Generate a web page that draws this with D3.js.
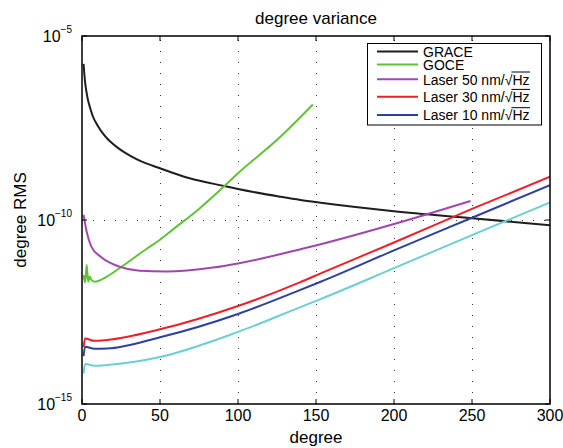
<!DOCTYPE html>
<html>
<head>
<meta charset="utf-8">
<script src="https://cdn.jsdelivr.net/npm/d3@7"></script>
<style>
  body { margin: 0; background: #fff; }
  text { font-family: "Liberation Sans", Arial, sans-serif; fill: #000; }
</style>
</head>
<body>
<svg id="chart"></svg>
<script>
// values
const graceDeg = [1, 2, 3, 4, 5, 7, 10, 13, 16, 19, 23, 27, 31, 38, 50, 69, 91, 100, 127, 140, 153, 200, 250, 300];
const graceVal = [1.74e-6, 5.5e-7, 2.8e-7, 1.7e-7, 1.2e-7, 6.5e-8, 3.7e-8, 2.37e-8, 1.67e-8, 1.25e-8, 9.1e-9, 6.95e-9, 5.5e-9, 3.9e-9, 2.54e-9, 1.36e-9, 8.4e-10, 6.95e-10, 4.3e-10, 3.5e-10, 2.95e-10, 1.74e-10, 1.12e-10, 7.2e-11];

const goceDeg = [1, 2, 3, 4, 5, 6, 8, 16, 24, 41, 50, 58, 75, 91, 100, 127, 148];
const goceVal = [3.2e-12, 2.0e-12, 6.0e-12, 2.1e-12, 2.9e-12, 2.35e-12, 2.1e-12, 2.9e-12, 4.9e-12, 1.6e-11, 2.9e-11, 5.4e-11, 2.0e-10, 8.1e-10, 1.86e-9, 1.8e-8, 1.38e-7];

const laser50Deg = [1, 3, 6, 12, 24, 37, 54, 84, 100, 140, 153, 200, 249];
const laser50Val = [1.38e-10, 4.8e-11, 1.9e-11, 1.0e-11, 5.4e-12, 4.2e-12, 4.0e-12, 5.1e-12, 6.6e-12, 1.6e-11, 2.2e-11, 7.8e-11, 3.3e-10];

const laser30Deg = [1, 2, 8, 16, 50, 100, 140, 153, 200, 250, 300];
const laser30Val = [3.5e-14, 6.0e-14, 5.2e-14, 5.5e-14, 1.07e-13, 4.6e-13, 2.05e-12, 3.55e-12, 2.45e-11, 2.0e-10, 1.5e-9];

const laser10Deg = [1, 2, 8, 16, 50, 100, 140, 153, 200, 250, 300];
const laser10Val = [2.0e-14, 3.6e-14, 3.15e-14, 3.2e-14, 6.5e-14, 2.8e-13, 1.26e-12, 2.1e-12, 1.5e-11, 1.15e-10, 8.9e-10];

const extraDeg = [1, 2, 8, 16, 50, 100, 140, 153, 200, 250, 300];
const extraVal = [6.8e-15, 1.23e-14, 1.1e-14, 1.15e-14, 1.9e-14, 9.1e-14, 4.3e-13, 7.1e-13, 4.9e-12, 3.9e-11, 3.0e-10];

const xTicks = [0, 50, 100, 150, 200, 250, 300];
const yTicks = [1e-15, 1e-10, 1e-5];
const yTickExp = ["\u221215", "\u221210", "\u22125"];
const legendNames = ["GRACE", "GOCE", "Laser 50 nm/\u221A", "Laser 30 nm/\u221A", "Laser 10 nm/\u221A"];

const width = 563, height = 448;
const plotLeft = 82, plotRight = 550, plotTop = 36, plotBottom = 404;

const series = [
  {deg: graceDeg, val: graceVal, color: "#1e1e1e"},
  {deg: goceDeg, val: goceVal, color: "#62c236"},
  {deg: laser50Deg, val: laser50Val, color: "#a047ae"},
  {deg: laser30Deg, val: laser30Val, color: "#ee1f2a"},
  {deg: laser10Deg, val: laser10Val, color: "#2c419f"},
  {deg: extraDeg, val: extraVal, color: "#6ccfd0"}
];

const svg = d3.select("#chart").attr("width", width).attr("height", height);

const x = d3.scaleLinear().domain([0, 300]).range([plotLeft, plotRight]);
const y = d3.scaleLog().domain([1e-15, 1e-5]).range([plotBottom, plotTop]);

// grid
const grid = svg.append("g").attr("stroke", "#333").attr("stroke-width", 1)
    .attr("stroke-dasharray", "1,10");
grid.selectAll("line.v")
    .data(xTicks.slice(1, -1))
    .enter().append("line")
    .attr("x1", d => Math.round(x(d)) + 0.5).attr("x2", d => Math.round(x(d)) + 0.5)
    .attr("y1", plotBottom).attr("y2", plotTop);
grid.selectAll("line.h")
    .data(yTicks.slice(1, -1))
    .enter().append("line")
    .attr("x1", plotLeft).attr("x2", plotRight)
    .attr("y1", d => Math.round(y(d)) + 0.5).attr("y2", d => Math.round(y(d)) + 0.5);

svg.append("clipPath").attr("id", "plot")
    .append("rect").attr("x", plotLeft).attr("y", plotTop)
    .attr("width", plotRight - plotLeft).attr("height", plotBottom - plotTop);

const line = d3.line()
    .x(d => x(d[0]))
    .y(d => y(d[1]))
    .curve(d3.curveMonotoneX);

svg.append("g").attr("clip-path", "url(#plot)")
    .selectAll("path")
    .data(series)
    .enter().append("path")
    .attr("d", s => line(s.deg.map((d, i) => [d, s.val[i]])))
    .attr("fill", "none")
    .attr("stroke", s => s.color)
    .attr("stroke-width", 2);

// box and ticks
svg.append("rect")
    .attr("x", plotLeft).attr("y", plotTop)
    .attr("width", plotRight - plotLeft).attr("height", plotBottom - plotTop)
    .attr("fill", "none").attr("stroke", "#000").attr("stroke-width", 1.5);

const ticks = svg.append("g").attr("stroke", "#000").attr("stroke-width", 1);
xTicks.forEach(t => {
  ticks.append("line").attr("x1", x(t)).attr("x2", x(t)).attr("y1", plotBottom).attr("y2", plotBottom - 5);
  ticks.append("line").attr("x1", x(t)).attr("x2", x(t)).attr("y1", plotTop).attr("y2", plotTop + 5);
});
yTicks.forEach(t => {
  ticks.append("line").attr("x1", plotLeft).attr("x2", plotLeft + 5).attr("y1", y(t)).attr("y2", y(t));
  ticks.append("line").attr("x1", plotRight).attr("x2", plotRight - 5).attr("y1", y(t)).attr("y2", y(t));
});

// tick labels
svg.append("g").selectAll("text")
    .data(xTicks)
    .enter().append("text")
    .attr("x", d => x(d)).attr("y", plotBottom + 17)
    .attr("text-anchor", "middle")
    .attr("font-size", 16)
    .text(d => d);

const yl = svg.append("g").selectAll("text")
    .data(yTicks)
    .enter().append("text")
    .attr("x", 72).attr("y", d => y(d) + 6)
    .attr("text-anchor", "end")
    .attr("font-size", 16);
yl.append("tspan").text("10");
yl.append("tspan").attr("dy", -9).attr("font-size", 10).text((d, i) => yTickExp[i]);

// titles
svg.append("text").attr("x", (plotLeft + plotRight) / 2).attr("y", 24)
    .attr("text-anchor", "middle").attr("font-size", 17).text("degree variance");
svg.append("text").attr("x", (plotLeft + plotRight) / 2).attr("y", 443)
    .attr("text-anchor", "middle").attr("font-size", 17).text("degree");
svg.append("text")
    .attr("transform", `translate(26, ${(plotTop + plotBottom) / 2}) rotate(-90)`)
    .attr("text-anchor", "middle").attr("font-size", 17).text("degree RMS");

// legend
const legendLineY = [51.5, 64.5, 79.3, 96.7, 115];
const lg = svg.append("g");
lg.append("rect").attr("x", 367.5).attr("y", 43.5).attr("width", 174).attr("height", 81.5)
    .attr("fill", "#fff").attr("stroke", "#000").attr("stroke-width", 1);

legendNames.forEach((name, i) => {
  const ly = legendLineY[i];
  lg.append("line").attr("x1", 377).attr("x2", 418).attr("y1", ly).attr("y2", ly)
      .attr("stroke", series[i].color).attr("stroke-width", 2);
  const t = lg.append("text").attr("x", 423).attr("y", ly + 5.2).attr("font-size", 14);
  t.append("tspan").text(name);
  if (i >= 2) {
    t.append("tspan").text("Hz");
    const node = t.node();
    const n = name.length;
    const ex = node.getEndPositionOfChar(n + 1).x;
    const rx = node.getEndPositionOfChar(n - 1).x;
    lg.append("line").attr("x1", rx - 1).attr("x2", ex + 0.5)
        .attr("y1", ly - 7.3).attr("y2", ly - 7.3)
        .attr("stroke", "#000").attr("stroke-width", 1);
  }
});
</script>
</body>
</html>
